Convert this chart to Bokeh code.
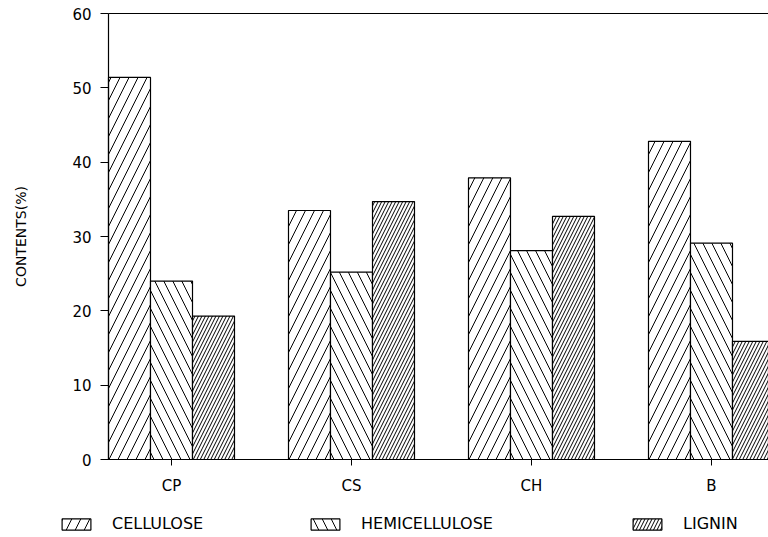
import numpy as np
from bokeh.plotting import figure
from bokeh.models import Range1d, FixedTicker, Legend, LegendItem, LinearAxis
from bokeh.embed import file_html
from bokeh.resources import INLINE

categories = ["CP", "CS", "CH", "B"]
cellulose = [51.4, 33.5, 37.9, 42.8]
hemicellulose = [24.0, 25.2, 28.1, 29.1]
lignin = [19.3, 34.7, 32.7, 15.9]
y_ticks = [0, 10, 20, 30, 40, 50, 60]
series_names = ["CELLULOSE", "HEMICELLULOSE", "LIGNIN"]

FONT = "DejaVu Sans"
x = np.arange(len(categories))
bw = 42 / 180
X_LEFT, X_RIGHT = -0.35, 3.3167   # plot-area edges in category units

p = figure(width=768, height=537, output_backend="svg", toolbar_location=None,
           x_range=Range1d(-0.95, X_RIGHT), y_range=Range1d(-10.49, 61.75),
           min_border=0, x_axis_type=None, y_axis_type=None)
p.outline_line_color = None
p.background_fill_color = "white"
p.border_fill_color = "white"

styles = [
    dict(hatch_pattern="/", hatch_scale=18),
    dict(hatch_pattern="\\", hatch_scale=18),
    dict(hatch_pattern="/", hatch_scale=7),
]
renderers = []
for i, (vals, st) in enumerate(zip([cellulose, hemicellulose, lignin], styles)):
    r = p.vbar(x=x + (i - 1) * bw, top=vals, width=bw, bottom=0,
               fill_color="white", line_color="black", line_width=1.2,
               hatch_color="black", hatch_weight=1.0, **st)
    renderers.append(r)

# left axis
yax = LinearAxis(fixed_location=X_LEFT, bounds=(y_ticks[0], y_ticks[-1]),
                 ticker=FixedTicker(ticks=y_ticks))
yax.major_tick_out = 8
yax.major_tick_in = 0
yax.minor_tick_line_color = None
yax.major_label_standoff = 9
yax.major_label_text_font = FONT
yax.major_label_text_font_size = "15px"
yax.major_label_text_color = "black"
yax.axis_line_color = "black"
yax.axis_line_width = 1.2
yax.axis_label = "CONTENTS(%)"
yax.axis_label_text_font = FONT
yax.axis_label_text_font_size = "14px"
yax.axis_label_text_font_style = "normal"
yax.axis_label_text_color = "black"
yax.axis_label_standoff = 40
p.add_layout(yax, "left")

# bottom axis
xax = LinearAxis(fixed_location=y_ticks[0], bounds=(X_LEFT, X_RIGHT),
                 ticker=FixedTicker(ticks=list(x)))
xax.major_label_overrides = {int(i): c for i, c in zip(x, categories)}
xax.major_tick_out = 6
xax.major_tick_in = 0
xax.minor_tick_line_color = None
xax.major_label_standoff = 11
xax.major_label_text_font = FONT
xax.major_label_text_font_size = "15px"
xax.major_label_text_color = "black"
xax.axis_line_color = "black"
xax.axis_line_width = 1.2
p.add_layout(xax, "below")

# top frame line
tax = LinearAxis(fixed_location=y_ticks[-1], bounds=(X_LEFT, X_RIGHT),
                 ticker=FixedTicker(ticks=[]))
tax.major_tick_line_color = None
tax.minor_tick_line_color = None
tax.major_label_text_font_size = "0px"
tax.axis_line_color = "black"
tax.axis_line_width = 1.2
p.add_layout(tax, "above")

legend_x = [58, 307, 629]
for name, r, lx in zip(series_names, renderers, legend_x):
    lg = Legend(items=[LegendItem(label=name, renderers=[r])], location=(lx, 4),
                orientation="horizontal", glyph_width=36, glyph_height=14,
                label_height=14, label_standoff=18, padding=0, margin=0, spacing=0,
                border_line_color=None, background_fill_alpha=0,
                label_text_font=FONT, label_text_font_size="16px",
                label_text_color="black")
    p.add_layout(lg, "center")

open("out.html", "w").write(file_html(p, INLINE))
